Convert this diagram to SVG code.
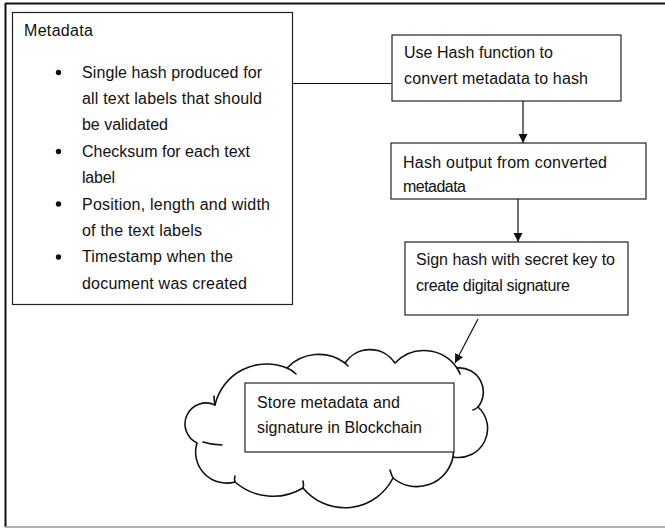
<svg xmlns="http://www.w3.org/2000/svg" width="665" height="528" viewBox="0 0 665 528">
<defs>
<style>
.box{fill:#fff;stroke:#222;stroke-width:1.2}
.t{font-family:"Liberation Sans",Arial,sans-serif;font-size:16px;fill:#111}
.conn{fill:none;stroke:#111;stroke-width:1.2}
.cloud{fill:#fff;stroke:#111;stroke-width:1.6;stroke-linejoin:round}
.tick{fill:none;stroke:#111;stroke-width:1.6;stroke-linecap:round}
</style>
<marker id="arr" markerUnits="userSpaceOnUse" markerWidth="10" markerHeight="10" refX="9" refY="4.5" orient="auto">
<path d="M0,0 L9,4.5 L0,9 z" fill="#111"/>
</marker>
</defs>
<rect width="665" height="528" fill="#fff"/>
<g id="frame">
<line x1="5.5" y1="3.5" x2="665" y2="3.5" stroke="#111" stroke-width="2"/>
<line x1="5.5" y1="3" x2="5.5" y2="527" stroke="#111" stroke-width="2"/>
<line x1="5" y1="527" x2="665" y2="527" stroke="#999" stroke-width="1.5"/>
</g>
<g id="connectors">
<line class="conn" x1="292" y1="83.5" x2="392" y2="83.5"/>
<line class="conn" x1="523" y1="101" x2="523" y2="143" marker-end="url(#arr)"/>
<line class="conn" x1="518" y1="199" x2="518" y2="242" marker-end="url(#arr)"/>
<line class="conn" x1="478" y1="319" x2="455" y2="363" marker-end="url(#arr)"/>
</g>
<g id="metadata">
<rect class="box" x="12.5" y="12.5" width="280" height="292"/>
<text class="t" x="24" y="36" textLength="69">Metadata</text>
<circle cx="58.5" cy="72.5" r="2.7" fill="#111"/>
<circle cx="58.5" cy="151.5" r="2.7" fill="#111"/>
<circle cx="58.5" cy="204" r="2.7" fill="#111"/>
<circle cx="58.5" cy="257" r="2.7" fill="#111"/>
<text class="t" x="82" y="77.5" textLength="180">Single hash produced for</text>
<text class="t" x="82" y="104" textLength="180">all text labels that should</text>
<text class="t" x="82" y="130" textLength="86">be validated</text>
<text class="t" x="82" y="156.5" textLength="168">Checksum for each text</text>
<text class="t" x="82" y="183" textLength="33">label</text>
<text class="t" x="82" y="209.5" textLength="188">Position, length and width</text>
<text class="t" x="82" y="236" textLength="120">of the text labels</text>
<text class="t" x="82" y="262" textLength="151">Timestamp when the</text>
<text class="t" x="82" y="288.5" textLength="165">document was created</text>
</g>
<g id="hashfn">
<rect class="box" x="392" y="35" width="229" height="66"/>
<text class="t" x="404" y="58" textLength="149">Use Hash function to</text>
<text class="t" x="404" y="84" textLength="184">convert metadata to hash</text>
</g>
<g id="hashout">
<rect class="box" x="391" y="143" width="255" height="56"/>
<text class="t" x="403" y="168" textLength="204">Hash output from converted</text>
<text class="t" x="403" y="192" textLength="63">metadata</text>
</g>
<g id="sign">
<rect class="box" x="405" y="242" width="223" height="73"/>
<text class="t" x="416" y="265" textLength="199">Sign hash with secret key to</text>
<text class="t" x="416" y="291" textLength="154">create digital signature</text>
</g>
<g id="blockchain">
<path class="cloud" d="M197,443 A21,21 0 0 1 215,405 A53,53 0 0 1 287,368 A44,44 0 0 1 345,363 A30,30 0 0 1 395,363 A40,40 0 0 1 457,368 A24,24 0 0 1 478,407 A29,29 0 0 1 453,457 A37,37 0 0 1 393,478 A54,54 0 0 1 303,488 A58,58 0 0 1 235,482 A31,31 0 0 1 197,443 Z"/>
<path class="tick" d="M203,442 Q212,445 222,445"/>
<path class="tick" d="M287,368 Q292,370 296,374"/>
<path class="tick" d="M345,363 Q346,364 348,366"/>
<path class="tick" d="M457,368 Q459,371 460,374"/>
<path class="tick" d="M478,407 Q476,409 473,410"/>
<path class="tick" d="M453,457 Q454,452 453,448"/>
<path class="tick" d="M393,478 Q391,474 390,470"/>
<path class="tick" d="M303,488 Q304,485 303,481"/>
<path class="tick" d="M235,482 Q234,479 235,476"/>
<path class="tick" d="M215,405 Q214,400 214,396"/>
<rect class="box" x="245" y="383" width="209" height="69"/>
<text class="t" x="257" y="408" textLength="143">Store metadata and</text>
<text class="t" x="257" y="433" textLength="165">signature in Blockchain</text>
</g>
</svg>
